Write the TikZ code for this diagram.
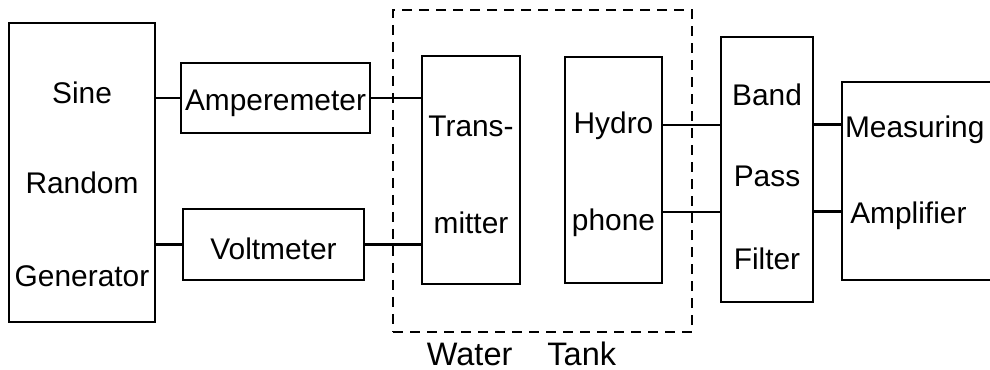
\documentclass[tikz,border=0pt]{standalone}
\usepackage{fontspec}
\setmainfont{Liberation Sans}

\begin{document}
\begin{tikzpicture}[
    box/.style={draw, line width=1.6pt, inner sep=0pt, align=center, font=\fontsize{17}{51}\selectfont},
    wire/.style={line width=1.6pt},
    tankline/.style={draw, line width=1.3pt, dash pattern=on 0.2cm off 0.14cm}
]
    \clip (0,0) rectangle (19.8,-7.4);
    \node[box, minimum width=2.92cm, minimum height=5.98cm] (gen) at (1.64,-3.45) {\rule{0pt}{0.9cm}Sine\\Random\\[2pt]Generator};
    \node[box, minimum width=3.78cm, minimum height=1.40cm] (amp) at (5.51,-1.96) {\rule{0pt}{0.64cm}Amperemeter};
    \node[box, minimum width=3.62cm, minimum height=1.42cm] (volt) at (5.47,-4.89) {\rule{0pt}{0.6cm}Voltmeter};
    \node[tankline, minimum width=5.98cm, minimum height=6.44cm] (tank) at (10.85,-3.42) {};
    \node[box, minimum width=1.96cm, minimum height=4.56cm] (trans) at (9.42,-3.40) {\rule{0pt}{0.6cm}Trans-\\[4pt]mitter};
    \node[box, minimum width=1.94cm, minimum height=4.52cm] (hydro) at (12.27,-3.40) {\rule{0pt}{0.6cm}Hydro\\[4pt]phone};
    \node[box, minimum width=1.84cm, minimum height=5.30cm] (bpf) at (15.34,-3.39) {\rule{0pt}{0.72cm}Band\\[-5pt]Pass\\[-4pt]Filter};
    \node[box, minimum width=3.36cm, minimum height=3.96cm, text width=3.24cm, align=left] (meas) at (18.52,-3.62) {Measuring\\[-2pt]\hspace{3pt}Amplifier\rule[-0.45cm]{0pt}{0.45cm}};
    \node[font=\fontsize{18.5}{20}\selectfont] (tanklabel) at (10.43,-7.07) {Water\hspace{0.7cm}Tank};

    \draw[wire] (amp.west) -- (amp.west -| gen.east);
    \draw[wire] (amp.east) -- (amp.east -| trans.west);
    \draw[wire] (volt.west) -- (volt.west -| gen.east);
    \draw[wire] (volt.east) -- (volt.east -| trans.west);
    \draw[wire] ([yshift=0.9cm]hydro.east) -- ([yshift=0.9cm]hydro.east -| bpf.west);
    \draw[wire] ([yshift=-0.84cm]hydro.east) -- ([yshift=-0.84cm]hydro.east -| bpf.west);
    \draw[wire] ([yshift=0.9cm]bpf.east) -- ([yshift=0.9cm]bpf.east -| meas.west);
    \draw[wire] ([yshift=-0.84cm]bpf.east) -- ([yshift=-0.84cm]bpf.east -| meas.west);
\end{tikzpicture}
\end{document}
